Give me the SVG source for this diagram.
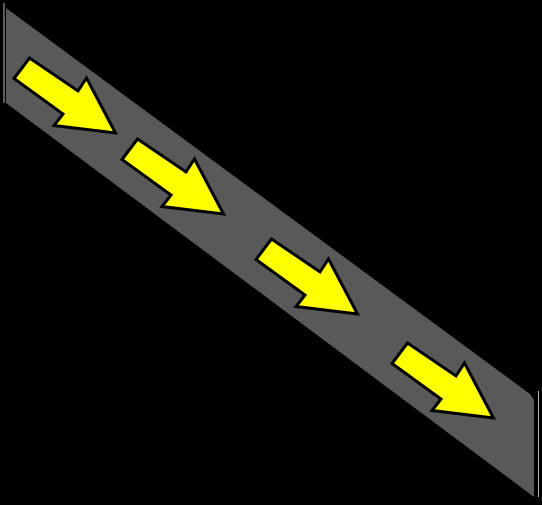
<svg xmlns="http://www.w3.org/2000/svg" xmlns:xlink="http://www.w3.org/1999/xlink" width="542" height="505" viewBox="0 0 542 505">
  <style>
    .band { fill: #595959; }
    .edge { stroke: #b4b4b4; stroke-width: 1; fill: none; }
    .arrow { fill: #ffff00; stroke: #000000; stroke-width: 3; stroke-linejoin: miter; }
  </style>
  <defs>
    <path id="blockArrow" class="arrow" d="M29.5,58 L78,91 L86.5,78 L115.5,133 L54,125.5 L63,114 L14,78.5 Z"/>
  </defs>
  <rect x="0" y="0" width="542" height="505" fill="#000000"/>
  <g id="band">
    <polygon class="band" points="6,8 530,394 534,400 534,497 6,103"/>
    <line class="edge" x1="4" y1="3" x2="4" y2="103"/>
    <line class="edge" x1="538.5" y1="391" x2="538.5" y2="497"/>
  </g>
  <g id="arrow1"><use xlink:href="#blockArrow" href="#blockArrow"/></g>
  <g id="arrow2"><use xlink:href="#blockArrow" href="#blockArrow" transform="translate(108,81)"/></g>
  <g id="arrow3"><use xlink:href="#blockArrow" href="#blockArrow" transform="translate(242,181)"/></g>
  <g id="arrow4"><use xlink:href="#blockArrow" href="#blockArrow" transform="translate(378,285)"/></g>
</svg>
